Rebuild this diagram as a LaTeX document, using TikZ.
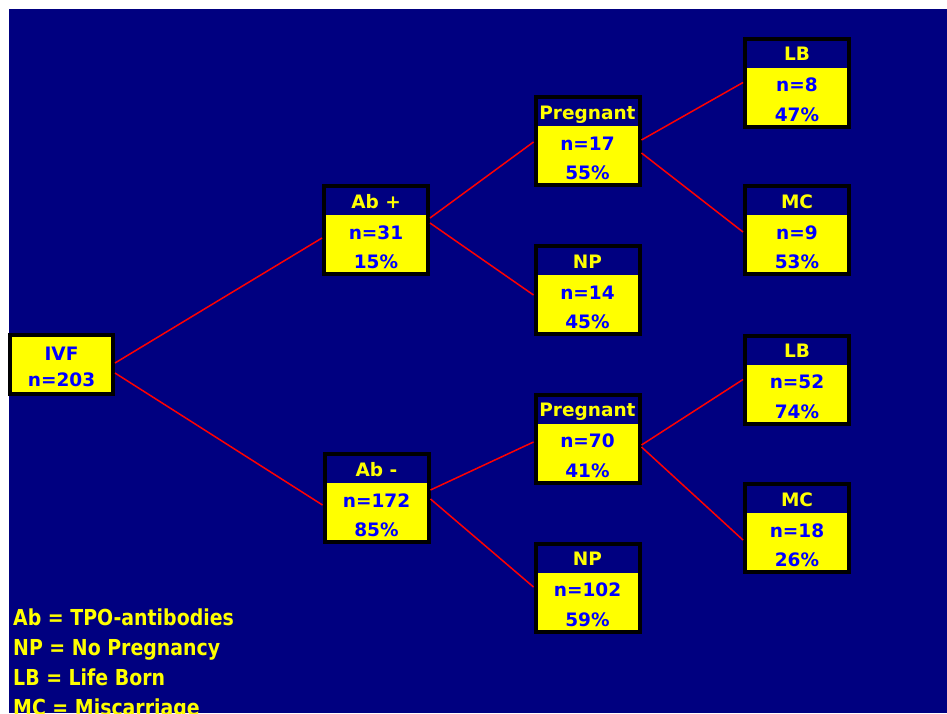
\documentclass[tikz,border=0pt]{standalone}
\usepackage{fontspec}
\setmainfont{DejaVu Sans}
\newfontfamily\legendfont[FakeStretch=0.86]{DejaVu Sans}
\usetikzlibrary{calc}
\definecolor{navyc}{RGB}{0,0,128}
\definecolor{yellowc}{RGB}{255,255,0}
\definecolor{bluec}{RGB}{0,0,255}
\definecolor{redc}{RGB}{255,0,0}
\tikzset{
  treebox/.style={draw=black, line width=4pt, fill=yellowc,
    minimum width=104pt, minimum height=88pt, inner sep=0pt,
    path picture={\fill[navyc] (path picture bounding box.north west)
      rectangle ([yshift=-29pt]path picture bounding box.north east);}},
  rootbox/.style={draw=black, line width=4pt, fill=yellowc,
    minimum width=103pt, minimum height=59pt, inner sep=0pt},
  boxfont/.style={font=\bfseries\fontsize{18.5}{20}\selectfont, inner sep=0pt, anchor=base},
  hdrtext/.style={boxfont, text=yellowc},
  bodytext/.style={boxfont, text=bluec},
  legendtext/.style={font=\legendfont\bfseries\fontsize{22}{24}\selectfont,
    text=yellowc, inner sep=0pt, anchor=base west},
  link/.style={draw=redc, line width=1.5pt}
}
\newcommand\TreeBox[6]{%
  \node[treebox] (#1) at (#2,#3) {};
  \node[hdrtext] (#1h) at ($(#1.center)+(0,-22)$) {#4};
  \node[bodytext] (#1n) at ($(#1.center)+(0,9)$) {#5};
  \node[bodytext] (#1p) at ($(#1.center)+(0,38.5)$) {#6};
}
\begin{document}
\begin{tikzpicture}[x=1pt, y=-1pt]
  \useasboundingbox (0,0) rectangle (947,713);
  \clip (0,0) rectangle (947,713);
  \fill[white] (0,0) rectangle (947,713);
  \fill[navyc] (9,9) rectangle (947,713);

  % root
  \node[rootbox] (ivf) at (61.5,364.5) {};
  \node[bodytext] (ivfh) at ($(ivf.center)+(0,-4.5)$) {IVF};
  \node[bodytext] (ivfn) at ($(ivf.center)+(0,22)$) {n=203};

  % level 1
  \TreeBox{abp}{376}{230}{Ab +}{n=31}{15\%}
  \TreeBox{abm}{376.5}{498}{Ab -}{n=172}{85\%}
  % level 2
  \TreeBox{prega}{587.5}{141}{Pregnant}{n=17}{55\%}
  \TreeBox{npa}{587.5}{290}{NP}{n=14}{45\%}
  \TreeBox{pregb}{587.5}{438.5}{Pregnant}{n=70}{41\%}
  \TreeBox{npb}{587.5}{587.5}{NP}{n=102}{59\%}
  % level 3
  \TreeBox{lba}{797}{82.5}{LB}{n=8}{47\%}
  \TreeBox{mca}{797}{230}{MC}{n=9}{53\%}
  \TreeBox{lbb}{797}{379.5}{LB}{n=52}{74\%}
  \TreeBox{mcb}{797}{528}{MC}{n=18}{26\%}

  % connectors
  \draw[link] ($(ivf.east)+(0,-1.5)$) -- ($(abp.west)+(0,8)$);
  \draw[link] ($(ivf.east)+(0,8.5)$) -- ($(abm.west)+(0,7)$);
  \draw[link] ($(abp.east)+(0,-12)$) -- ($(prega.west)+(0,1)$);
  \draw[link] ($(abp.east)+(0,-7)$) -- ($(npa.west)+(0,5)$);
  \draw[link] ($(abm.east)+(0,-8)$) -- ($(pregb.west)+(0,3.5)$);
  \draw[link] ($(abm.east)+(0,1)$) -- ($(npb.west)+(0,-0.5)$);
  \draw[link] ($(prega.east)+(0,-1)$) -- ($(lba.west)+(0,0)$);
  \draw[link] ($(prega.east)+(0,12)$) -- ($(mca.west)+(0,2)$);
  \draw[link] ($(pregb.east)+(0,6.5)$) -- ($(lbb.west)+(0,0)$);
  \draw[link] ($(pregb.east)+(0,8.5)$) -- ($(mcb.west)+(0,12)$);

  % legend
  \node[legendtext] (lg1) at (13,625) {Ab = TPO-antibodies};
  \node[legendtext] (lg2) at (13,655) {NP = No Pregnancy};
  \node[legendtext] (lg3) at (13,685) {LB = Life Born};
  \node[legendtext] (lg4) at (13,715) {MC = Miscarriage};
\end{tikzpicture}
\end{document}
